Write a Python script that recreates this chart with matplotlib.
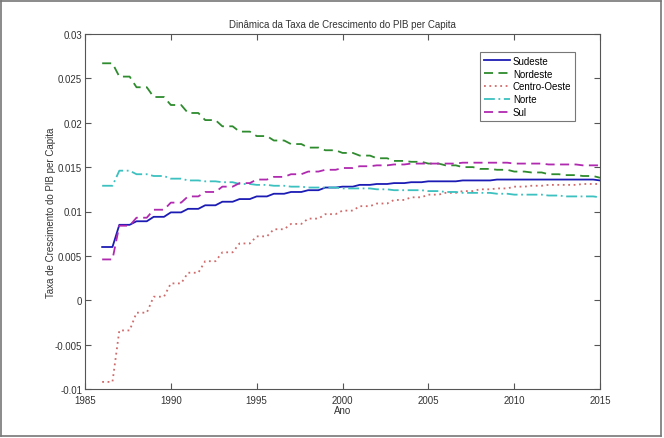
import numpy as np
from matplotlib import pyplot as plt
from matplotlib.lines import Line2D

plt.rcParams['font.family'] = ['Liberation Sans', 'DejaVu Sans']

years = np.arange(1986, 2016)

sudeste = [0.0060, 0.0085, 0.0089, 0.0094, 0.0099, 0.0103, 0.0107, 0.0111, 0.0114, 0.0117,
           0.0120, 0.0122, 0.0124, 0.0127, 0.0128, 0.0130, 0.0131, 0.0132, 0.0133, 0.0134,
           0.0134, 0.0135, 0.0135, 0.0136, 0.0136, 0.0136, 0.0136, 0.0136, 0.0136, 0.0135]
nordeste = [0.0267, 0.0252, 0.0240, 0.0229, 0.0220, 0.0211, 0.0203, 0.0196, 0.0190, 0.0185,
            0.0180, 0.0176, 0.0172, 0.0169, 0.0166, 0.0163, 0.0160, 0.0157, 0.0156, 0.0154,
            0.0152, 0.0150, 0.0148, 0.0147, 0.0145, 0.0144, 0.0142, 0.0141, 0.0140, 0.0138]
centro_oeste = [-0.0092, -0.0034, -0.0014, 0.0004, 0.0019, 0.0031, 0.0044, 0.0054, 0.0064, 0.0072,
                0.0080, 0.0086, 0.0092, 0.0097, 0.0101, 0.0106, 0.0109, 0.0113, 0.0116, 0.0119,
                0.0121, 0.0123, 0.0125, 0.0126, 0.0128, 0.0129, 0.0130, 0.0130, 0.0131, 0.0131]
norte = [0.0129, 0.0146, 0.0142, 0.0140, 0.0137, 0.0135, 0.0134, 0.0133, 0.0131, 0.0130,
         0.0129, 0.0128, 0.0127, 0.0127, 0.0126, 0.0126, 0.0125, 0.0124, 0.0124, 0.0123,
         0.0122, 0.0121, 0.0121, 0.0120, 0.0119, 0.0119, 0.0118, 0.0117, 0.0117, 0.0116]
sul = [0.0046, 0.0084, 0.0093, 0.0102, 0.0110, 0.0117, 0.0122, 0.0128, 0.0132, 0.0136,
       0.0139, 0.0142, 0.0145, 0.0147, 0.0149, 0.0151, 0.0152, 0.0153, 0.0154, 0.0154,
       0.0154, 0.0155, 0.0155, 0.0155, 0.0154, 0.0154, 0.0153, 0.0153, 0.0152, 0.0152]

names = ["Sudeste", "Nordeste", "Centro-Oeste", "Norte", "Sul"]
series = [sudeste, nordeste, centro_oeste, norte, sul]
colors = ["#1c1cb4", "#2e8b2e", "#d06a6a", "#3cc0c0", "#b02ab0"]
styles = ["-", (0, (5, 3)), (0, (1, 2)), (0, (6, 2, 1, 2)), (0, (5, 3))]


# each yearly value is held flat for part of the year, then ramps to the next
def staircase(x, y, hold=0.6):
    xs, ys = [], []
    for xi, yi in zip(x, y):
        xs += [xi, min(xi + hold, x[-1])]
        ys += [yi, yi]
    return np.array(xs), np.array(ys)


fig = plt.figure(figsize=(6.64, 4.39), dpi=100)
ax = fig.add_axes([85 / 664, 1 - 390 / 439, 515 / 664, 355 / 439])

for name, vals, c, ls in zip(names, series, colors, styles):
    sx, sy = staircase(years, vals)
    ax.plot(sx, sy, color=c, linestyle=ls, lw=1.3, label=name)

ax.set_xlim(1985, 2015)
ax.set_ylim(-0.01, 0.03)
ax.set_xticks(np.arange(1985, 2016, 5))
ax.set_yticks(np.arange(-0.01, 0.0301, 0.005))
ax.set_yticklabels(["-0.01", "-0.005", "0", "0.005", "0.01", "0.015", "0.02", "0.025", "0.03"])
ax.tick_params(direction="in", top=True, right=True, labelsize=7, length=4,
               color="#555555", labelcolor="#333333", pad=2)
ax.tick_params(axis="x", pad=4)
for s in ax.spines.values():
    s.set_color("#555555")
    s.set_linewidth(0.8)

ax.set_title("Dinâmica da Taxa de Crescimento do PIB per Capita", fontsize=7, color="#333333", pad=5)
ax.set_xlabel("Ano", fontsize=7, color="#333333", labelpad=0)
ax.set_ylabel("Taxa de Crescimento do PIB per Capita", fontsize=7, color="#333333", labelpad=-1)

leg = ax.legend(loc="upper right", bbox_to_anchor=(0.952, 0.95), fontsize=7, frameon=True,
                fancybox=False, edgecolor="#555555", handlelength=2.7, handletextpad=0.3,
                labelspacing=0.3, borderpad=0.4, borderaxespad=0)
leg.get_frame().set_linewidth(0.8)

# thin gray frame around the whole picture
for xs_, ys_ in [([0.002, 0.996], [0.995, 0.995]), ([0.996, 0.996], [0.005, 0.995]),
                 ([0.002, 0.996], [0.005, 0.005]), ([0.002, 0.002], [0.005, 0.995])]:
    fig.add_artist(Line2D(xs_, ys_, transform=fig.transFigure, color="#777777", lw=1.2))

plt.savefig("out.png", dpi=100)
